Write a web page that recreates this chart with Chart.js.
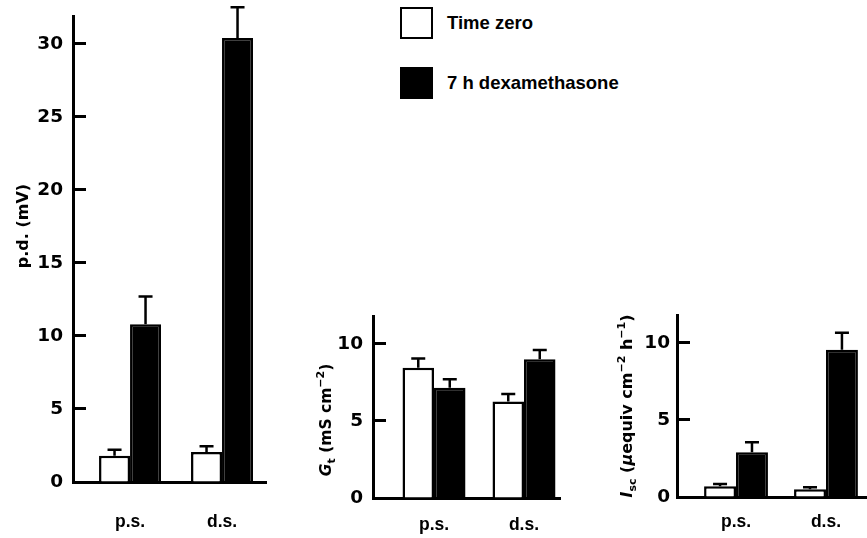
<!DOCTYPE html>
<html>
<head>
<meta charset="utf-8">
<script src="https://cdn.jsdelivr.net/npm/chart.js@4.4.1/dist/chart.umd.min.js"></script>
<style>
  body { margin: 0; background: #fff; width: 867px; height: 538px; position: relative; overflow: hidden; }
  .panel { position: absolute; }
  .key { position: absolute; left: 400px; width: 33px; height: 32px; box-sizing: border-box; border: 2.5px solid #000; }
  .key-label { position: absolute; left: 447px; height: 32px; line-height: 32px; font-family: 'Liberation Sans', Arial, sans-serif; font-size: 18.5px; font-weight: bold; color: #000; white-space: nowrap; }
</style>
</head>
<body>
<div class="key" style="top:7px; background:#fff"></div>
<div class="key-label" id="keyLabel0" style="top:7px"></div>
<div class="key" style="top:67px; background:#000"></div>
<div class="key-label" id="keyLabel1" style="top:67px"></div>

<div class="panel" style="left:0; top:0; width:280px; height:538px"><canvas id="pdChart"></canvas></div>
<div class="panel" style="left:290px; top:280px; width:280px; height:258px"><canvas id="gtChart"></canvas></div>
<div class="panel" style="left:580px; top:280px; width:287px; height:258px"><canvas id="iscChart"></canvas></div>

<script>
const groups = ['p.s.', 'd.s.'];
const seriesNames = ['Time zero', '7 h dexamethasone'];

// p.d. (mV)
const pdZero = [1.8, 2.05];
const pdZeroErr = [0.4, 0.4];
const pdDex = [10.8, 30.4];
const pdDexErr = [1.9, 2.1];
const pdTicks = [0, 5, 10, 15, 20, 25, 30];

// G_t (mS cm-2)
const gtZero = [8.45, 6.25];
const gtZeroErr = [0.6, 0.5];
const gtDex = [7.15, 9.0];
const gtDexErr = [0.55, 0.6];

// I_sc (uequiv cm-2 h-1)
const iscZero = [0.7, 0.5];
const iscZeroErr = [0.15, 0.13];
const iscDex = [2.9, 9.55];
const iscDexErr = [0.65, 1.1];

const smallTicks = [0, 5, 10];

const pdTitle = [{ t: 'p.d. (mV)' }];
const gtTitle = [{ t: 'G', it: true }, { t: 't', sub: true }, { t: ' (mS cm' }, { t: '−2', sup: true }, { t: ')' }];
const iscTitle = [{ t: 'I', it: true }, { t: 'sc', sub: true }, { t: ' (' }, { t: 'μ', it: true }, { t: 'equiv cm' }, { t: '−2', sup: true }, { t: ' h' }, { t: '−1', sup: true }, { t: ')' }];

document.getElementById('keyLabel0').textContent = seriesNames[0];
document.getElementById('keyLabel1').textContent = seriesNames[1];

// upward-only error bars with a cap
const errorBars = {
    id: 'errorBars',
    afterDatasetsDraw(chart) {
        const ctx = chart.ctx;
        const yScale = chart.scales.y;
        ctx.save();
        ctx.strokeStyle = '#000';
        ctx.lineWidth = 2.5;
        chart.data.datasets.forEach((ds, di) => {
            chart.getDatasetMeta(di).data.forEach((bar, i) => {
                const top = yScale.getPixelForValue(ds.data[i].y + ds.errors[i]);
                ctx.beginPath();
                ctx.moveTo(bar.x, bar.y);
                ctx.lineTo(bar.x, top);
                ctx.moveTo(bar.x - 7, top);
                ctx.lineTo(bar.x + 7, top);
                ctx.stroke();
            });
        });
        ctx.restore();
    }
};

// rotated y title with italic / sub / superscript parts
const richTitle = {
    id: 'richTitle',
    afterDraw(chart, args, opts) {
        if (!opts.parts) return;
        const ctx = chart.ctx;
        const size = opts.size || 16;
        const fontFor = p => `${p.it ? 'italic ' : ''}bold ${p.sub || p.sup ? Math.round(size * 0.68) : size}px "DejaVu Sans", sans-serif`;
        let total = 0;
        opts.parts.forEach(p => { ctx.font = fontFor(p); total += ctx.measureText(p.t).width; });
        ctx.save();
        ctx.translate(opts.x, opts.y);
        ctx.rotate(-Math.PI / 2);
        ctx.fillStyle = '#000';
        ctx.textBaseline = 'alphabetic';
        let x = -total / 2;
        opts.parts.forEach(p => {
            ctx.font = fontFor(p);
            const dy = p.sub ? 4 : p.sup ? -7 : 0;
            ctx.fillText(p.t, x, 6 + dy);
            x += ctx.measureText(p.t).width;
        });
        ctx.restore();
    }
};

function buildPanel(canvasId, cfg) {
    const toPoints = arr => arr.map((v, i) => ({ x: i, y: v }));
    const barStyle = { borderColor: '#000', borderWidth: 2.5, categoryPercentage: cfg.catPct, barPercentage: 1 };
    return new Chart(document.getElementById(canvasId), {
        type: 'bar',
        data: {
            datasets: [
                { label: seriesNames[0], data: toPoints(cfg.zero), errors: cfg.zeroErr, backgroundColor: '#fff', ...barStyle },
                { label: seriesNames[1], data: toPoints(cfg.dex), errors: cfg.dexErr, backgroundColor: '#000', ...barStyle }
            ]
        },
        options: {
            responsive: true,
            maintainAspectRatio: false,
            animation: false,
            layout: { padding: { top: cfg.padTop, right: cfg.padRight, left: 0, bottom: 0 } },
            plugins: {
                legend: { display: false },
                tooltip: { enabled: false },
                richTitle: cfg.title
            },
            scales: {
                x: {
                    type: 'linear',
                    offset: false,
                    min: cfg.xMin,
                    max: cfg.xMax,
                    afterBuildTicks: s => { s.ticks = groups.map((g, i) => ({ value: i })); },
                    afterFit: s => { s.height = cfg.xHeight; s.paddingLeft = 0; s.paddingRight = 0; },
                    grid: { display: false },
                    border: { display: true, color: '#000', width: 3 },
                    ticks: {
                        padding: cfg.xPad,
                        color: '#000',
                        maxRotation: 0,
                        autoSkip: false,
                        font: { family: '"Liberation Sans", Arial, sans-serif', size: 17.5, weight: 'bold' },
                        callback: v => groups[v]
                    }
                },
                y: {
                    min: 0,
                    max: cfg.yMax,
                    afterBuildTicks: s => { s.ticks = cfg.ticks.map(v => ({ value: v })); },
                    afterFit: s => { s.width = cfg.yWidth; s.paddingTop = 0; s.paddingBottom = 0; },
                    grid: { display: true, drawOnChartArea: false, drawTicks: true, tickLength: -13, tickWidth: 3, tickColor: '#000' },
                    border: { display: true, color: '#000', width: 3 },
                    ticks: {
                        padding: cfg.yPad,
                        color: '#000',
                        font: { family: '"DejaVu Sans", sans-serif', size: 18.5, weight: 'bold' }
                    }
                }
            }
        },
        plugins: [errorBars, richTitle]
    });
}

buildPanel('pdChart', {
    zero: pdZero, zeroErr: pdZeroErr, dex: pdDex, dexErr: pdDexErr, ticks: pdTicks,
    yMax: 31.9, xMin: -0.62, xMax: 1.478, catPct: 0.674,
    yWidth: 73, padTop: 16, padRight: 14, xHeight: 56, xPad: 22, yPad: 23,
    title: { parts: pdTitle, x: 22, y: 226 }
});

buildPanel('gtChart', {
    zero: gtZero, zeroErr: gtZeroErr, dex: gtDex, dexErr: gtDexErr, ticks: smallTicks,
    yMax: 11.8, xMin: -0.678, xMax: 1.4, catPct: 0.7,
    yWidth: 83, padTop: 36, padRight: 10, xHeight: 40, xPad: 9, yPad: 23,
    title: { parts: gtTitle, x: 35, y: 140, size: 15.5 }
});

buildPanel('iscChart', {
    zero: iscZero, zeroErr: iscZeroErr, dex: iscDex, dexErr: iscDexErr, ticks: smallTicks,
    yMax: 11.8, xMin: -0.656, xMax: 1.456, catPct: 0.71,
    yWidth: 97, padTop: 35, padRight: 0, xHeight: 41, xPad: 7, yPad: 20,
    title: { parts: iscTitle, x: 46, y: 126 }
});
</script>
</body>
</html>
